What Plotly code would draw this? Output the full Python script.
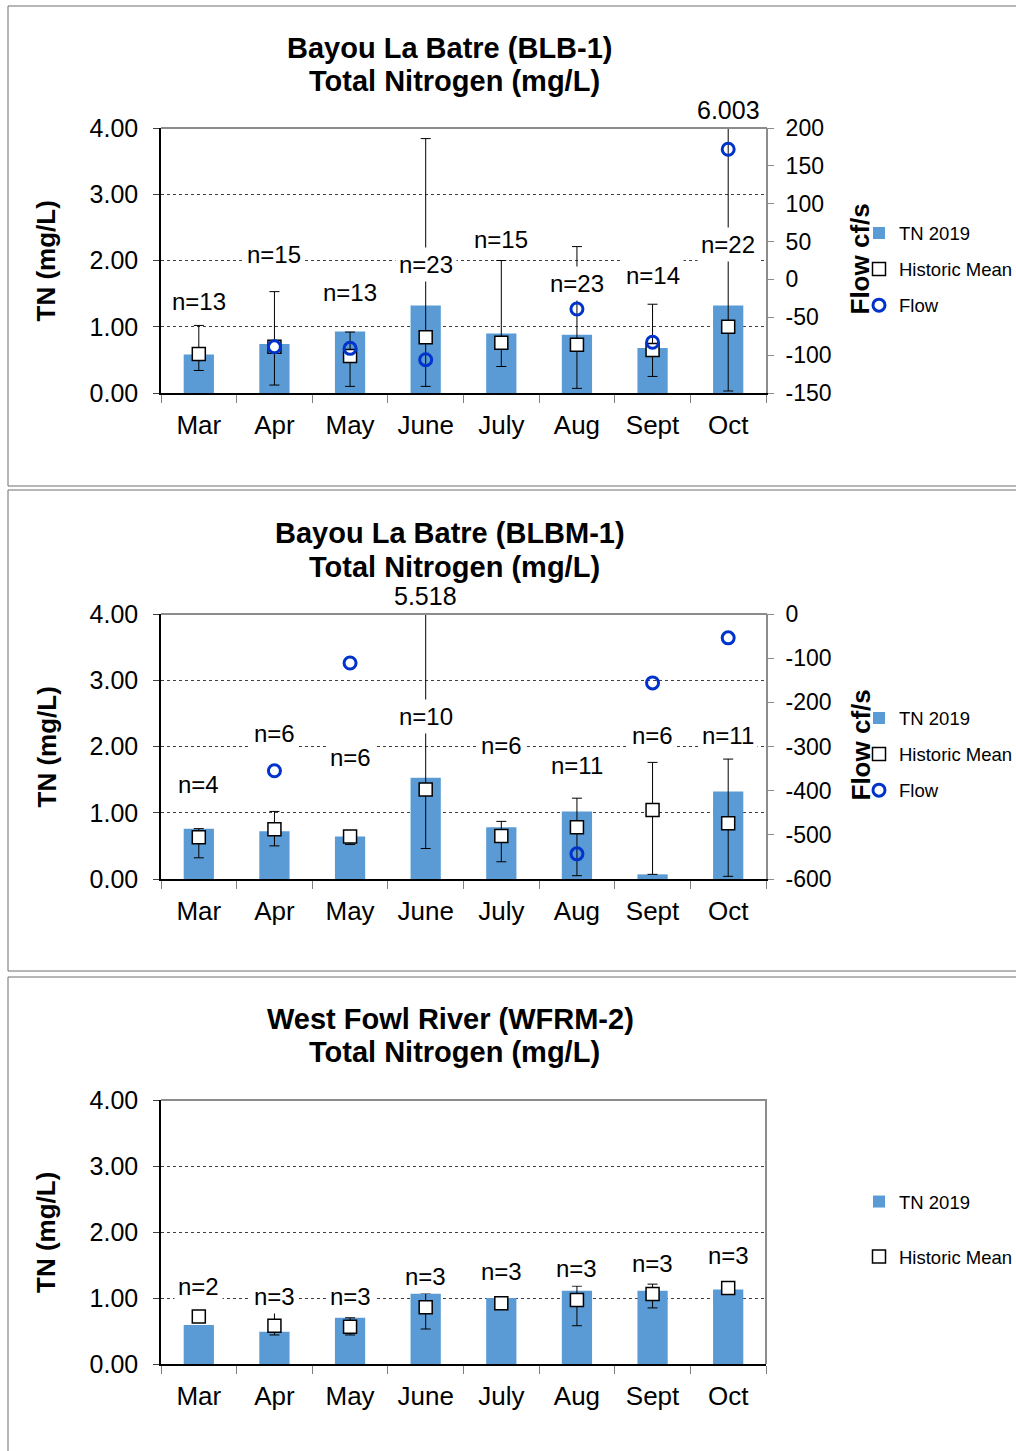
import plotly.graph_objects as go

# ---------------- data ----------------
months = ["Mar", "Apr", "May", "June", "July", "Aug", "Sept", "Oct"]

# Bayou La Batre (BLB-1)
blb1_tn2019 = [0.58, 0.74, 0.93, 1.32, 0.90, 0.88, 0.68, 1.32]
blb1_hist_mean = [0.59, 0.70, 0.56, 0.84, 0.76, 0.73, 0.65, 1.00]
blb1_hist_max = [1.02, 1.53, 0.92, 3.84, 2.00, 2.21, 1.34, 6.003]
blb1_hist_min = [0.34, 0.12, 0.10, 0.10, 0.40, 0.07, 0.25, 0.03]
blb1_flow = [None, -89, -91, -106, None, -39, -83, 172]
blb1_n = [13, 15, 13, 23, 15, 23, 14, 22]

# Bayou La Batre (BLBM-1)
blbm1_tn2019 = [0.76, 0.72, 0.64, 1.53, 0.78, 1.02, 0.07, 1.32]
blbm1_hist_mean = [0.63, 0.75, 0.64, 1.35, 0.65, 0.78, 1.04, 0.84]
blbm1_hist_max = [0.76, 1.02, 0.70, 5.518, 0.87, 1.22, 1.76, 1.81]
blbm1_hist_min = [0.32, 0.50, 0.52, 0.46, 0.26, 0.05, 0.07, 0.04]
blbm1_flow = [None, -355, -111, None, None, -543, -156, -54]
blbm1_n = [4, 6, 6, 10, 6, 11, 6, 11]

# West Fowl River (WFRM-2)
wfrm2_tn2019 = [0.59, 0.49, 0.70, 1.07, 1.00, 1.11, 1.11, 1.13]
wfrm2_hist_mean = [0.72, 0.58, 0.565, 0.86, 0.92, 0.97, 1.06, 1.15]
wfrm2_hist_max = [0.81, 0.79, 0.70, 1.07, 0.95, 1.18, 1.21, 1.17]
wfrm2_hist_min = [0.63, 0.44, 0.44, 0.53, 0.90, 0.58, 0.85, 1.13]
wfrm2_n = [2, 3, 3, 3, 3, 3, 3, 3]

# ---------------- layout helpers ----------------
W, H = 1016, 1451
FONT = "Liberation Sans, Arial, sans-serif"
BAR_BLUE = "#5B9BD5"
FLOW_BLUE = "#0033CC"
FRAME_GREY = "#8C8C8C"


def px_x(p):
    return p / W


def px_y(p):
    return 1 - p / H


PLOT_X0, PLOT_X1 = 161, 766

panels = [
    dict(
        site="Bayou La Batre (BLB-1)", tn=blb1_tn2019, mean=blb1_hist_mean,
        hi=blb1_hist_max, lo=blb1_hist_min, flow=blb1_flow, n=blb1_n,
        n_y=[1.38, 2.09, 1.51, 1.94, 2.31, 1.66, 1.78, 2.24],
        top=128, bottom=393, title_y=(48, 81), frame=(6, 486),
        flow_range=[-150, 200], flow_dtick=50, legend_mid=269.5, legend_gap=9,
        big_max=("Oct", 6.003),
    ),
    dict(
        site="Bayou La Batre (BLBM-1)", tn=blbm1_tn2019, mean=blbm1_hist_mean,
        hi=blbm1_hist_max, lo=blbm1_hist_min, flow=blbm1_flow, n=blbm1_n,
        n_y=[1.42, 2.19, 1.83, 2.46, 2.01, 1.72, 2.17, 2.17],
        top=614, bottom=879, title_y=(533, 567), frame=(490, 971),
        flow_range=[-600, 0], flow_dtick=100, legend_mid=754.5, legend_gap=9,
        big_max=("June", 5.518),
    ),
    dict(
        site="West Fowl River (WFRM-2)", tn=wfrm2_tn2019, mean=wfrm2_hist_mean,
        hi=wfrm2_hist_max, lo=wfrm2_hist_min, flow=None, n=wfrm2_n,
        n_y=[1.18, 1.03, 1.03, 1.33, 1.40, 1.44, 1.53, 1.64],
        top=1100, bottom=1364, title_y=(1019, 1052), frame=(977, 1460),
        flow_range=None, flow_dtick=None, legend_mid=1229.5, legend_gap=28,
        big_max=None,
    ),
]

fig = go.Figure()
layout = dict(
    width=W, height=H,
    margin=dict(l=0, r=0, t=0, b=0, pad=0, autoexpand=False),
    paper_bgcolor="white", plot_bgcolor="white",
    font=dict(family=FONT, color="black"),
    showlegend=True, bargap=0.6,
)
annotations = []
shapes = []

yaxis_counter = 1
for i, p in enumerate(panels):
    xname = "x" if i == 0 else f"x{i + 1}"
    xkey = "xaxis" if i == 0 else f"xaxis{i + 1}"
    ynum = yaxis_counter
    yname = "y" if ynum == 1 else f"y{ynum}"
    ykey = "yaxis" if ynum == 1 else f"yaxis{ynum}"
    yaxis_counter += 1
    legend_name = "legend" if i == 0 else f"legend{i + 1}"

    ydom = [px_y(p["bottom"]), px_y(p["top"])]

    # bars for the current year
    fig.add_trace(go.Bar(
        x=months, y=p["tn"], name="TN 2019", xaxis=xname, yaxis=yname,
        width=0.4, marker=dict(color=BAR_BLUE, line=dict(width=0)),
        legend=legend_name, legendgroup=f"tn{i}", hoverinfo="x+y",
    ))
    # historic mean with min/max range
    fig.add_trace(go.Scatter(
        x=months, y=p["mean"], name="Historic Mean", mode="markers",
        xaxis=xname, yaxis=yname, legend=legend_name, legendgroup=f"hm{i}",
        marker=dict(symbol="square", size=13, color="white",
                    line=dict(color="black", width=1.5)),
        error_y=dict(type="data", symmetric=False,
                     array=[h - m for h, m in zip(p["hi"], p["mean"])],
                     arrayminus=[m - l for m, l in zip(p["mean"], p["lo"])],
                     color="black", thickness=1, width=5),
    ))

    layout[xkey] = dict(
        domain=[px_x(PLOT_X0), px_x(PLOT_X1)], anchor=yname,
        type="category", range=[-0.5, 7.5], tickson="boundaries",
        ticks="outside", ticklen=8, tickcolor="#7F7F7F", tickwidth=1,
        showline=True, linecolor="black", linewidth=1.5, automargin=False,
        showgrid=False, tickfont=dict(size=26), ticklabelstandoff=8,
    )
    layout[ykey] = dict(
        domain=ydom, anchor=xname, range=[0, 4], dtick=1, tickformat=".2f",
        ticks="outside", ticklen=6, tickcolor="#404040", automargin=False,
        showline=True, linecolor="black", linewidth=1.5,
        showgrid=True, gridcolor="#404040", griddash="dot", gridwidth=1,
        tickfont=dict(size=25), ticklabelstandoff=10, zeroline=False,
    )

    if p["flow"] is not None:
        fnum = yaxis_counter
        fname = f"y{fnum}"
        fkey = f"yaxis{fnum}"
        yaxis_counter += 1
        fig.add_trace(go.Scatter(
            x=months, y=p["flow"], name="Flow", mode="markers",
            xaxis=xname, yaxis=fname, legend=legend_name, legendgroup=f"fl{i}",
            marker=dict(symbol="circle-open", size=12, color=FLOW_BLUE,
                        line=dict(color=FLOW_BLUE, width=3)),
        ))
        lo_f, hi_f = p["flow_range"]
        fticks = list(range(lo_f, hi_f + 1, p["flow_dtick"]))
        layout[fkey] = dict(
            domain=ydom, anchor=xname, overlaying=yname, side="right",
            range=p["flow_range"], tickvals=fticks,
            ticktext=[str(v) for v in fticks],
            ticks="outside", ticklen=6, tickcolor=FRAME_GREY, automargin=False,
            showline=True, linecolor=FRAME_GREY, linewidth=2,
            showgrid=False, zeroline=False,
            tickfont=dict(size=23), ticklabelstandoff=7,
        )
        annotations.append(dict(
            text="<b>Flow cf/s</b>", xref="paper", yref="paper",
            x=px_x(860), y=px_y((p["top"] + p["bottom"]) / 2 - 1),
            textangle=-90, showarrow=False, font=dict(size=26),
            xanchor="center", yanchor="middle",
        ))
    else:
        shapes.append(dict(
            type="line", xref="paper", yref="paper",
            x0=px_x(PLOT_X1), x1=px_x(PLOT_X1),
            y0=px_y(p["bottom"]), y1=px_y(p["top"]),
            line=dict(color=FRAME_GREY, width=2), layer="above",
        ))

    # top edge of the plot area
    shapes.append(dict(
        type="line", xref="paper", yref="paper",
        x0=px_x(PLOT_X0), x1=px_x(PLOT_X1 + 1),
        y0=px_y(p["top"]), y1=px_y(p["top"]),
        line=dict(color=FRAME_GREY, width=2), layer="above",
    ))
    # outer frame of the chart
    shapes.append(dict(
        type="rect", xref="paper", yref="paper",
        x0=px_x(8), x1=px_x(1030),
        y0=px_y(p["frame"][1]), y1=px_y(p["frame"][0]),
        line=dict(color="#6E6E6E", width=1), fillcolor="rgba(0,0,0,0)",
        layer="below",
    ))

    # titles
    annotations.append(dict(
        text=f"<b>{p['site']}</b>", xref="paper", yref="paper",
        x=px_x(450), y=px_y(p["title_y"][0]), showarrow=False,
        font=dict(size=29), xanchor="center", yanchor="middle",
    ))
    annotations.append(dict(
        text="<b>Total Nitrogen (mg/L)</b>", xref="paper", yref="paper",
        x=px_x(454), y=px_y(p["title_y"][1]), showarrow=False,
        font=dict(size=29), xanchor="center", yanchor="middle",
    ))
    annotations.append(dict(
        text="<b>TN (mg/L)</b>", xref="paper", yref="paper",
        x=px_x(46), y=px_y((p["top"] + p["bottom"]) / 2 + 1),
        textangle=-90, showarrow=False, font=dict(size=26),
        xanchor="center", yanchor="middle",
    ))

    # sample counts
    for m, cnt, ny in zip(months, p["n"], p["n_y"]):
        annotations.append(dict(
            text=f"n={cnt}", xref=xname, yref=yname, x=m, y=ny,
            showarrow=False, font=dict(size=24), bgcolor="white",
            borderpad=3, xanchor="center", yanchor="middle",
        ))

    # maximum that runs past the top of the axis
    if p["big_max"] is not None:
        bm, bv = p["big_max"]
        annotations.append(dict(
            text=f"{bv:.3f}", xref=xname, yref="paper", x=bm,
            y=px_y(p["top"] - 2), showarrow=False, font=dict(size=25),
            xanchor="center", yanchor="bottom",
        ))

    layout[legend_name] = dict(
        x=px_x(859), y=px_y(p["legend_mid"]), xanchor="left", yanchor="middle",
        font=dict(size=18.5), itemwidth=30, tracegroupgap=p["legend_gap"],
        bgcolor="rgba(0,0,0,0)", borderwidth=0, traceorder="grouped",
    )

layout["annotations"] = annotations
layout["shapes"] = shapes
fig.update_layout(**layout)

fig.write_html("out.html")
